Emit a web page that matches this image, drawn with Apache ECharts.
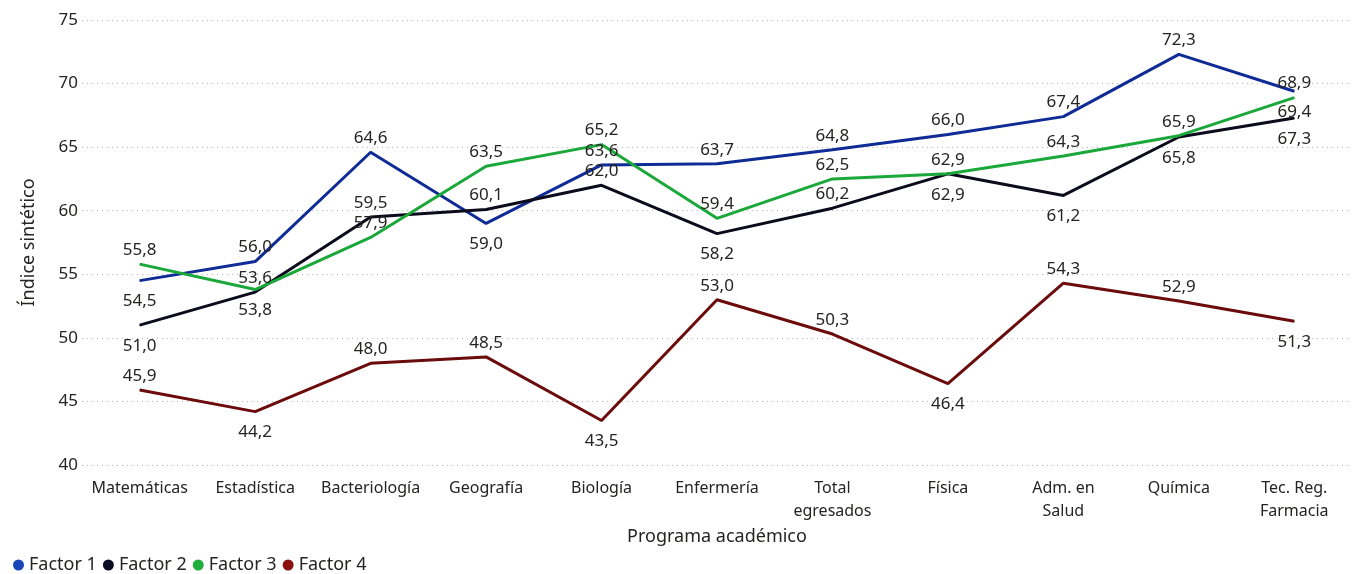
<!DOCTYPE html>
<html>
<head>
<meta charset="utf-8">
<script src="https://cdn.jsdelivr.net/npm/echarts@6/dist/echarts.min.js"></script>
<style>
  html, body { margin: 0; padding: 0; background: #fff; }
  #main { width: 1352px; height: 574px; }
</style>
</head>
<body>
<div id="main"></div>
<script>
  const programas = ['Matemáticas', 'Estadística', 'Bacteriología', 'Geografía', 'Biología', 'Enfermería',
    'Total\negresados', 'Física', 'Adm. en\nSalud', 'Química', 'Tec. Reg.\nFarmacia']
  const factor1 = [54.5, 56.0, 64.6, 59.0, 63.6, 63.7, 64.8, 66.0, 67.4, 72.3, 69.4]
  const factor2 = [51.0, 53.6, 59.5, 60.1, 62.0, 58.2, 60.2, 62.9, 61.2, 65.8, 67.3]
  const factor3 = [55.8, 53.8, 57.9, 63.5, 65.2, 59.4, 62.5, 62.9, 64.3, 65.9, 68.9]
  const factor4 = [45.9, 44.2, 48.0, 48.5, 43.5, 53.0, 50.3, 46.4, 54.3, 52.9, 51.3]
  const yTicks = [40, 45, 50, 55, 60, 65, 70, 75]

  // posición de cada etiqueta (arriba / abajo)
  const pos1 = ['bottom', 'top', 'top', 'bottom', 'top', 'top', 'top', 'top', 'top', 'top', 'bottom']
  const pos2 = ['bottom', 'top', 'top', 'top', 'top', 'bottom', 'top', 'bottom', 'bottom', 'bottom', 'bottom']
  const pos3 = ['top', 'bottom', 'top', 'top', 'top', 'top', 'top', 'top', 'top', 'top', 'top']
  const pos4 = ['top', 'bottom', 'top', 'top', 'bottom', 'top', 'top', 'bottom', 'top', 'top', 'bottom']

  const fuente = 'Noto Sans'
  const texto = '#252423'
  const fmt = v => v.toFixed(1).replace('.', ',')

  function serie (name, values, positions, color) {
    return {
      name: name,
      type: 'line',
      symbol: 'circle',
      symbolSize: 1,
      showSymbol: true,
      lineStyle: { width: 3, color: color },
      itemStyle: { color: color },
      label: {
        show: true,
        fontFamily: fuente,
        fontSize: 17,
        color: texto,
        formatter: p => fmt(p.value)
      },
      data: values.map((v, i) => ({
        value: v,
        label: { position: positions[i], distance: positions[i] === 'bottom' ? 12 : 5 }
      }))
    }
  }

  const chart = echarts.init(document.getElementById('main'))
  chart.setOption({
    animation: false,
    textStyle: { fontFamily: fuente },
    grid: { left: 82, right: -9, top: 20, bottom: 109 },
    legend: {
      left: 8,
      bottom: -5,
      icon: 'circle',
      itemWidth: 11,
      itemHeight: 11,
      itemGap: 6,
      textStyle: { fontFamily: fuente, fontSize: 18, color: texto },
      data: [
        { name: 'Factor 1', itemStyle: { color: '#1847b8' } },
        { name: 'Factor 2', itemStyle: { color: '#0b0b26' } },
        { name: 'Factor 3', itemStyle: { color: '#1fae3c' } },
        { name: 'Factor 4', itemStyle: { color: '#8a1010' } }
      ]
    },
    xAxis: {
      type: 'category',
      data: programas,
      boundaryGap: true,
      name: 'Programa académico',
      nameLocation: 'middle',
      nameGap: 62,
      nameTextStyle: { fontFamily: fuente, fontSize: 18, color: texto },
      axisLine: { show: false },
      axisTick: { show: false },
      axisLabel: { fontFamily: fuente, fontSize: 16, color: texto, margin: 12, lineHeight: 23, interval: 0 }
    },
    yAxis: {
      type: 'value',
      min: yTicks[0],
      max: yTicks[yTicks.length - 1],
      interval: 5,
      name: 'Índice sintético',
      nameLocation: 'middle',
      nameGap: 44,
      nameTextStyle: { fontFamily: fuente, fontSize: 18, color: texto },
      axisLabel: { fontFamily: fuente, fontSize: 17, color: texto, margin: 4 },
      splitLine: { lineStyle: { type: [1, 4], color: '#b5b5b5', width: 1 } }
    },
    series: [
      serie('Factor 1', factor1, pos1, '#0f2b96'),
      serie('Factor 2', factor2, pos2, '#0b0b1c'),
      serie('Factor 3', factor3, pos3, '#1aa83a'),
      serie('Factor 4', factor4, pos4, '#6b0b0b')
    ]
  })
</script>
</body>
</html>
